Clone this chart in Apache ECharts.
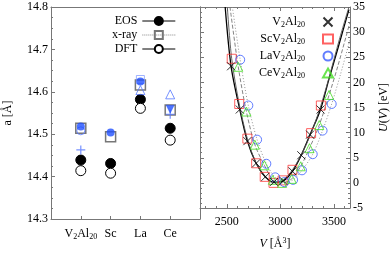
<!DOCTYPE html>
<html><head><meta charset="utf-8">
<script src="https://cdn.jsdelivr.net/npm/echarts@6/dist/echarts.min.js"></script>
<style>html,body{margin:0;padding:0;background:#fff}#c{width:392px;height:256px}</style>
</head><body><div id="c"></div>
<script>
// ---- Left panel data (lattice parameter a [Å]) ----
const categories = ['V2Al20', 'Sc', 'La', 'Ce'];
const catPos = [1, 2, 3, 4];
const eos = [14.439, 14.431, 14.582, 14.514];
const xray = [14.514, 14.494, 14.616, 14.557];
const dft = [14.414, 14.408, 14.561, 14.486];
const blueFilled = [[1, 14.518], [2, 14.504], [3, 14.624]];
const blueOpenCircle = [[1, 14.508]];
const bluePlus = [[1, 14.463], [4, 14.547]];
const blueTriUp = [[3, 14.604], [4, 14.594]];
const blueTriDown = [[4, 14.559]];
const blueSquare = [[3, 14.629]];
const leftTicks = [14.3, 14.4, 14.5, 14.6, 14.7, 14.8];

// ---- Right panel data (U(V) [eV] vs V [Å^3]) ----
const V_v2 = [2540, 2621, 2692, 2774, 2860, 2941, 3028, 3113, 3195, 3277, 3375];
const U_v2 = [23.2, 14.6, 8.3, 3.9, 1.2, 0.2, 0.4, 2.3, 5.5, 9.6, 14.6];
const V_sc = [2546, 2616, 2692, 2774, 2854, 2936, 3021, 3113, 3287, 3378];
const U_sc = [24.7, 15.7, 8.8, 3.9, 1.2, 0.0, 0.5, 2.6, 9.9, 15.4];
const V_la = [2625, 2701, 2783, 2869, 2952, 3037, 3119, 3202, 3302, 3394, 3479];
const U_la = [24.5, 15.4, 8.6, 3.8, 1.1, 0.15, 0.6, 2.5, 5.7, 10.4, 15.7];
const V_ce = [2607, 2683, 2762, 2851, 2930, 3016, 3106, 3190, 3272, 3363, 3455];
const U_ce = [23.1, 14.2, 7.6, 3.5, 0.6, 0.0, 0.8, 3.3, 6.9, 11.5, 17.5];
// fitted curves
const fitV_v2 = [2485, 2540, 2621, 2692, 2774, 2860, 2945, 3028, 3113, 3195, 3277, 3375, 3449, 3540, 3640];
const fitU_v2 = [35, 23.2, 14.6, 8.3, 3.9, 1.2, 0.1, 0.4, 2.3, 5.5, 9.6, 14.6, 20.3, 27, 34.5];
const fitV_sc = [2505, 2546, 2616, 2692, 2774, 2854, 2936, 3021, 3113, 3200, 3287, 3378, 3455, 3550, 3640];
const fitU_sc = [35, 24.7, 15.7, 8.8, 3.9, 1.2, 0.0, 0.5, 2.6, 5.8, 9.9, 15.4, 21, 28.5, 35];
const fitV_ce = [2530, 2607, 2683, 2762, 2851, 2930, 3016, 3106, 3190, 3272, 3363, 3455, 3540, 3650];
const fitU_ce = [35, 23.1, 14.2, 7.6, 3.5, 0.6, 0.0, 0.8, 3.3, 6.9, 11.5, 17.5, 23.5, 32];
const fitV_la = [2552, 2625, 2701, 2783, 2869, 2952, 3037, 3119, 3202, 3302, 3394, 3479, 3560, 3650];
const fitU_la = [35, 24.5, 15.4, 8.6, 3.8, 1.1, 0.15, 0.6, 2.5, 5.7, 10.4, 15.7, 21.5, 28.5];
const rightNames = ['V2Al20', 'ScV2Al20', 'LaV2Al20', 'CeV2Al20'];

const zip = (a, b) => a.map((v, i) => [v, b[i]]);
const sub = s => s.replace(/(\d+)/g, '{s|$1}');
const FONT = 'Liberation Serif';
const AX = '#777';
const rich = {
  s: { fontSize: 8, fontFamily: FONT, verticalAlign: 'bottom', lineHeight: 8, color: '#000' },
  sup: { fontSize: 8, fontFamily: FONT, verticalAlign: 'top', lineHeight: 8, color: '#000' },
  i: { fontSize: 12, fontFamily: FONT, fontStyle: 'italic', color: '#000' }
};
const txt = { fontFamily: FONT, fontSize: 12, color: '#000', lineHeight: 14, rich: rich };
const BLUE = '#2050ff', LBLUE = '#5577ff';

const chart = echarts.init(document.getElementById('c'), null, { renderer: 'canvas' });
const frameAxis = (gi, pos, extra) => Object.assign({
  gridIndex: gi, position: pos, axisLine: { show: true, onZero: false, lineStyle: { color: AX } },
  axisLabel: { show: false }, splitLine: { show: false }
}, extra);

const option = {
  animation: false,
  backgroundColor: '#fff',
  grid: [
    { left: 49, top: 7, width: 151, height: 212 },
    { left: 200, top: 7, width: 153, height: 212 }
  ],
  xAxis: [
    { type: 'value', gridIndex: 0, min: 0, max: 5, interval: 1, position: 'bottom',
      axisLine: { onZero: false, lineStyle: { color: AX } },
      axisTick: { inside: true, length: 3, lineStyle: { color: AX } },
      splitLine: { show: false },
      axisLabel: Object.assign({}, txt, { margin: 8, showMinLabel: false, showMaxLabel: false,
        formatter: v => { const i = catPos.indexOf(v); return i < 0 ? '' : sub(categories[i]); } }) },
    frameAxis(0, 'top', { type: 'value', min: 0, max: 5, axisTick: { show: false } }),
    { type: 'value', gridIndex: 1, min: 2250, max: 3650, splitNumber: 3, position: 'bottom',
      axisLine: { onZero: false, lineStyle: { color: AX } },
      axisTick: { inside: true, length: 4, lineStyle: { color: AX } },
      minorTick: { show: true, splitNumber: 5, length: 2, lineStyle: { color: AX } },
      splitLine: { show: false },
      axisLabel: Object.assign({}, txt, { margin: 7, showMinLabel: false, showMaxLabel: false,
        formatter: v => (v % 500 === 0 ? String(v) : '') }),
      name: '{i|V} [Å{sup|3}]', nameLocation: 'middle', nameGap: 29, nameTextStyle: txt },
    frameAxis(1, 'top', { type: 'value', min: 2250, max: 3650, splitNumber: 3,
      axisTick: { inside: true, length: 4, lineStyle: { color: AX } },
      minorTick: { show: true, splitNumber: 5, length: 2, lineStyle: { color: AX } } })
  ],
  yAxis: [
    { type: 'value', gridIndex: 0, min: 14.3, max: 14.8, interval: 0.1, position: 'left',
      axisLine: { show: true, onZero: false, lineStyle: { color: AX } },
      axisTick: { inside: true, length: 4, lineStyle: { color: AX } },
      minorTick: { show: true, splitNumber: 4, length: 2, lineStyle: { color: AX } },
      splitLine: { show: false },
      axisLabel: Object.assign({}, txt, { margin: 3,
        formatter: v => { const t = leftTicks.find(x => Math.abs(x - v) < 1e-6); return t === undefined ? '' : t.toFixed(1); } }),
      name: 'a [Å]', nameLocation: 'middle', nameGap: 36, nameRotate: 90, nameTextStyle: txt },
    frameAxis(0, 'right', { type: 'value', min: 14.3, max: 14.8, interval: 0.1, axisTick: { show: false } }),
    frameAxis(1, 'left', { type: 'value', min: -5, max: 35, interval: 5,
      axisTick: { inside: true, length: 4, lineStyle: { color: AX } },
      minorTick: { show: true, splitNumber: 5, length: 2, lineStyle: { color: AX } } }),
    { type: 'value', gridIndex: 1, min: -5, max: 35, interval: 5, position: 'right',
      axisLine: { show: true, onZero: false, lineStyle: { color: AX } },
      axisTick: { inside: true, length: 4, lineStyle: { color: AX } },
      minorTick: { show: true, splitNumber: 5, length: 2, lineStyle: { color: AX } },
      splitLine: { show: false },
      axisLabel: Object.assign({}, txt, { margin: 3 }),
      name: '{i|U}({i|V}) [eV]', nameLocation: 'middle', nameGap: 27, nameRotate: 90, nameTextStyle: txt }
  ],
  legend: [
    { left: 107, top: 10, orient: 'vertical', align: 'right', itemWidth: 33, itemHeight: 10, itemGap: 2,
      textStyle: { fontFamily: FONT, fontSize: 12, color: '#000', width: 40, align: 'right' },
      data: [
        { name: 'EOS', lineStyle: { opacity: 1, width: 1, color: '#000', type: 'solid' } },
        { name: 'x-ray', lineStyle: { opacity: 1, width: 1, color: '#888', type: 'dotted' } },
        { name: 'DFT', lineStyle: { opacity: 1, width: 1, color: '#000', type: 'solid' } }
      ] },
    { left: 240, top: 10, orient: 'vertical', align: 'right', itemWidth: 10, itemHeight: 9, itemGap: 3,
      textStyle: Object.assign({}, txt, { width: 60, align: 'right', padding: [0, 13, 0, 0] }),
      formatter: n => sub(n),
      data: rightNames }
  ],
  series: [
    // left panel
    { name: 'x-ray', type: 'line', xAxisIndex: 0, yAxisIndex: 0, data: zip(catPos, xray),
      symbol: 'rect', symbolSize: 10, lineStyle: { opacity: 0 },
      itemStyle: { color: 'rgba(255,255,255,0)', borderColor: '#777', borderWidth: 1.5 }, z: 3 },
    { name: 'EOS', type: 'line', xAxisIndex: 0, yAxisIndex: 0, data: zip(catPos, eos),
      symbol: 'circle', symbolSize: 10, lineStyle: { opacity: 0 },
      itemStyle: { color: '#000', borderColor: '#000', borderWidth: 1 }, z: 3 },
    { name: 'DFT', type: 'line', xAxisIndex: 0, yAxisIndex: 0, data: zip(catPos, dft),
      symbol: 'circle', symbolSize: 10, lineStyle: { opacity: 0 },
      itemStyle: { color: '#fff', borderColor: '#000', borderWidth: 1 }, z: 3 },
    { name: 'blueSq', type: 'scatter', xAxisIndex: 0, yAxisIndex: 0, data: blueSquare, symbol: 'rect', symbolSize: 8,
      itemStyle: { color: 'rgba(255,255,255,0)', borderColor: '#88a0ff', borderWidth: 1 }, z: 4 },
    { name: 'blueOC', type: 'scatter', xAxisIndex: 0, yAxisIndex: 0, data: blueOpenCircle, symbol: 'circle', symbolSize: 8,
      itemStyle: { color: 'rgba(255,255,255,0)', borderColor: LBLUE, borderWidth: 1 }, z: 4 },
    { name: 'blueTU', type: 'scatter', xAxisIndex: 0, yAxisIndex: 0, data: blueTriUp, symbol: 'triangle', symbolSize: 9,
      itemStyle: { color: 'rgba(255,255,255,0)', borderColor: LBLUE, borderWidth: 1 }, z: 4 },
    { name: 'blueTD', type: 'scatter', xAxisIndex: 0, yAxisIndex: 0, data: blueTriDown, symbol: 'triangle', symbolRotate: 180, symbolSize: 8,
      itemStyle: { color: BLUE, borderColor: BLUE, borderWidth: 0.5 }, z: 5 },
    { name: 'bluePlus', type: 'scatter', xAxisIndex: 0, yAxisIndex: 0, data: bluePlus, symbol: 'path://M5,0L5,10M0,5L10,5', symbolSize: 9,
      itemStyle: { color: 'rgba(0,0,0,0)', borderColor: LBLUE, borderWidth: 1.2 }, z: 4 },
    { name: 'blueF', type: 'scatter', xAxisIndex: 0, yAxisIndex: 0, data: blueFilled, symbol: 'circle', symbolSize: 8,
      itemStyle: { color: BLUE }, z: 5 },
    // right panel fits
    { name: 'fitV2', type: 'line', xAxisIndex: 2, yAxisIndex: 3, data: zip(fitV_v2, fitU_v2), smooth: 0.3, showSymbol: false,
      lineStyle: { color: '#000', width: 1.3 }, z: 2 },
    { name: 'fitSc', type: 'line', xAxisIndex: 2, yAxisIndex: 3, data: zip(fitV_sc, fitU_sc), smooth: 0.3, showSymbol: false,
      lineStyle: { color: '#555', width: 0.9 }, z: 2 },
    { name: 'fitCe', type: 'line', xAxisIndex: 2, yAxisIndex: 3, data: zip(fitV_ce, fitU_ce), smooth: 0.3, showSymbol: false,
      lineStyle: { color: '#777', width: 0.9, type: [4, 2] }, z: 2 },
    { name: 'fitLa', type: 'line', xAxisIndex: 2, yAxisIndex: 3, data: zip(fitV_la, fitU_la), smooth: 0.3, showSymbol: false,
      lineStyle: { color: '#888', width: 0.9, type: [1, 2] }, z: 2 },
    // right panel points
    { name: 'ScV2Al20', type: 'scatter', xAxisIndex: 2, yAxisIndex: 3, data: zip(V_sc, U_sc), symbol: 'rect', symbolSize: 9,
      itemStyle: { color: 'rgba(255,255,255,0)', borderColor: '#ff3a3a', borderWidth: 1 }, z: 3 },
    { name: 'LaV2Al20', type: 'scatter', xAxisIndex: 2, yAxisIndex: 3, data: zip(V_la, U_la), symbol: 'circle', symbolSize: 9,
      itemStyle: { color: 'rgba(255,255,255,0)', borderColor: '#3a5cff', borderWidth: 1 }, z: 3 },
    { name: 'CeV2Al20', type: 'scatter', xAxisIndex: 2, yAxisIndex: 3, data: zip(V_ce, U_ce), symbol: 'triangle', symbolSize: 9,
      itemStyle: { color: 'rgba(255,255,255,0)', borderColor: '#44dd22', borderWidth: 1 }, z: 3 },
    { name: 'V2Al20', type: 'scatter', xAxisIndex: 2, yAxisIndex: 3, data: zip(V_v2, U_v2), symbol: 'path://M0,0L10,10M10,0L0,10', symbolSize: 8,
      itemStyle: { color: 'rgba(0,0,0,0)', borderColor: '#000', borderWidth: 1 }, z: 4 }
  ]
};
chart.setOption(option);
</script></body></html>
